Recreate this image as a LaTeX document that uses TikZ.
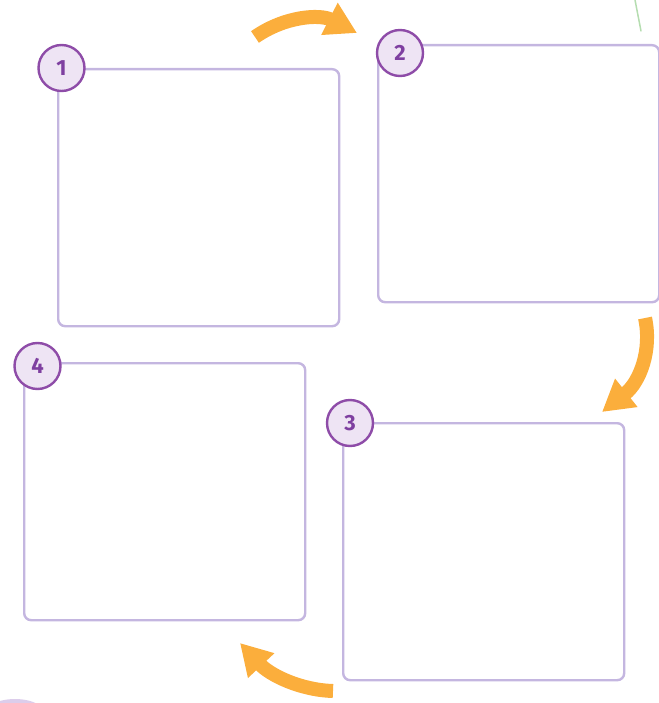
\documentclass[tikz,border=0pt]{standalone}
\usepackage{fontspec}
\setmainfont{Fira Sans}
\usetikzlibrary{arrows.meta}
\definecolor{boxline}{HTML}{C4B6E0}
\definecolor{badgefill}{HTML}{EEE4F4}
\definecolor{badgeline}{HTML}{8E4CA8}
\definecolor{badgetext}{HTML}{7E3FA0}
\definecolor{arroworange}{HTML}{FBAE3C}
\definecolor{leafgreen}{HTML}{B5DDB0}
\definecolor{blobpurple}{HTML}{DCCDEB}
\tikzset{
  stepbox/.style={draw=boxline, line width=2.4pt, rounded corners=7pt, fill=white,
    minimum width=281pt, minimum height=257pt, anchor=north west, inner sep=0pt},
  badge/.style={circle, draw=badgeline, line width=2.4pt, fill=badgefill,
    minimum size=46pt, inner sep=0pt, text=badgetext,
    font=\fontsize{22}{24}\selectfont\bfseries},
  bigarrow/.style={draw=arroworange, line width=14pt,
    -{Triangle[length=31pt, width=34pt, fill=arroworange]}}
}
\begin{document}
\begin{tikzpicture}[x=1pt, y=-1pt]
\useasboundingbox (0,0) rectangle (658,703);
% boxes
\node[stepbox] (b1) at (57,68) {};
\node[stepbox] (b2) at (377,44) {};
\node[stepbox] (b4) at (23,362) {};
\node[stepbox] (b3) at (342,422) {};
% badges
\node[badge] (c1) at (61.5,68) {1};
\node[badge] (c2) at (400,53) {2};
\node[badge] (c4) at (37.5,366) {4};
\node[badge] (c3) at (350,423) {3};
% arrows
\coordinate (a1s) at (255,37);
\coordinate (a1e) at (357,33);
\coordinate (a2s) at (645,318);
\coordinate (a2e) at (602,412);
\coordinate (a3s) at (333,691);
\coordinate (a3e) at (240,643);
\draw[bigarrow] (a1s) .. controls (285,16) and (320,14) .. (a1e);
\draw[bigarrow] (a2s) .. controls (652,350) and (640,382) .. (a2e);
\draw[bigarrow] (a3s) .. controls (300,690) and (270,675) .. (a3e);
% decorative fragments
\coordinate (g1) at (635,0);
\coordinate (g2) at (641,31);
\draw[leafgreen, line width=1.5pt, line cap=round] (g1) -- (g2);
\fill[blobpurple] (15,716) ellipse [x radius=32, y radius=17];
\end{tikzpicture}
\end{document}
